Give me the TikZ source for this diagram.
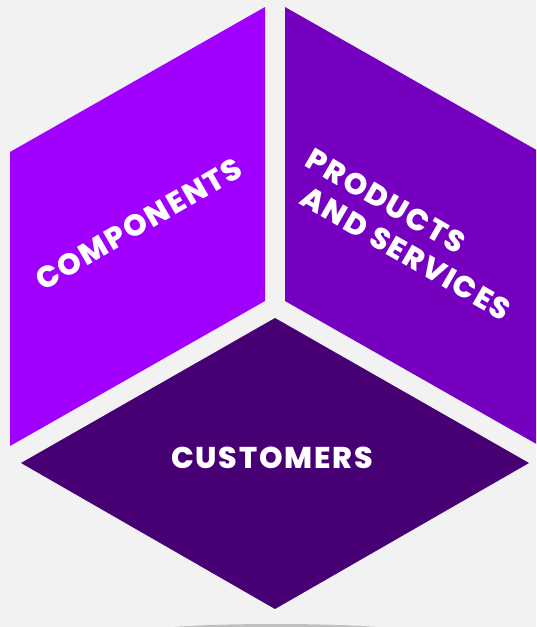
\documentclass[tikz,border=0pt]{standalone}
\usepackage{fontspec}
\setmainfont{Poppins}[BoldFont={* ExtraBold}]
\usepackage{tikz}
\definecolor{bggray}{HTML}{F2F2F2}
\definecolor{compviolet}{HTML}{A100FF}
\definecolor{prodviolet}{HTML}{7500C0}
\definecolor{custviolet}{HTML}{460073}
\tikzstyle{facetext} = [text=white, inner sep=0pt, font=\bfseries\fontsize{30}{35}\selectfont\addfontfeature{LetterSpace=6}]

\begin{document}
\begin{tikzpicture}[x=1pt, y=-1pt]
  \fill[bggray] (0,0) rectangle (536,627);
  \useasboundingbox (0,0) rectangle (536,627);
  \clip (0,0) rectangle (536,627);

  % shadow under the cube
  \fill[black!25] (275,631) ellipse (124 and 7);

  % the three faces
  \fill[compviolet] (10,152) -- (265,7) -- (265,301) -- (10,446) -- cycle;
  \fill[prodviolet] (285,7) -- (540,152) -- (540,446) -- (285,301) -- cycle;
  \fill[custviolet] (21,463) -- (275,318) -- (529,463) -- (275,609) -- cycle;

  \node(comp) [facetext, rotate=30] at (139,224) {COMPONENTS};
  \node(prod) [facetext, rotate=-30, anchor=north west, align=left] at (314,147) {PRODUCTS\\\hspace*{15pt}AND SERVICES};
  \node(cust) [facetext] at (272,458) {CUSTOMERS};
\end{tikzpicture}
\end{document}
